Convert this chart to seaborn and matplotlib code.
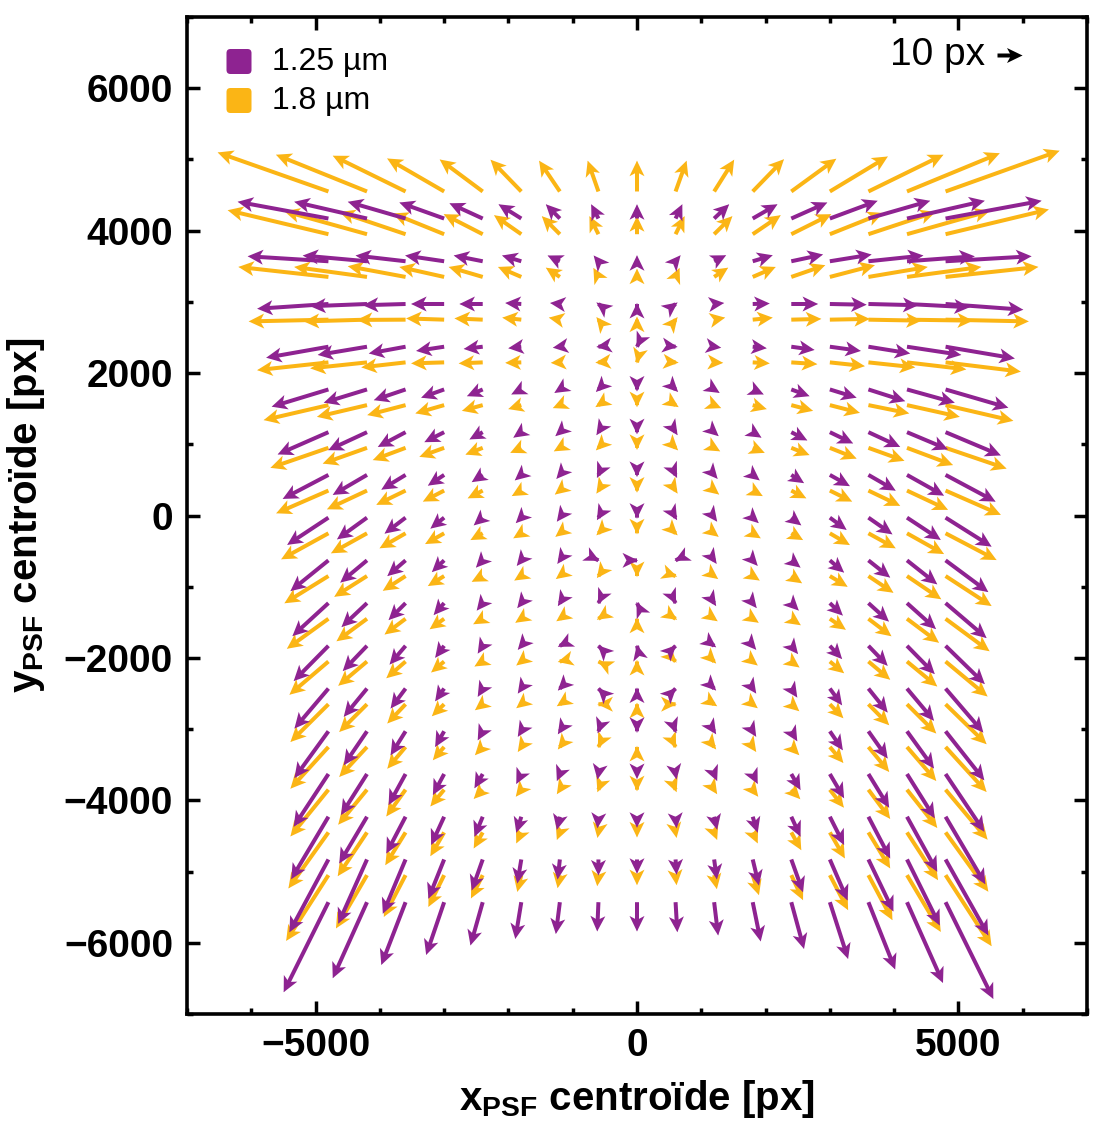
import numpy as np
import matplotlib
matplotlib.use("Agg")
import matplotlib.pyplot as plt
import seaborn as sns
from matplotlib.patches import FancyBboxPatch
from matplotlib.ticker import MultipleLocator, FixedLocator

sns.set_theme(style="ticks")
plt.rcParams['font.family'] = ['Liberation Sans', 'DejaVu Sans']
plt.rcParams['mathtext.fontset'] = 'custom'
plt.rcParams['mathtext.rm'] = 'Liberation Sans'
plt.rcParams['mathtext.bf'] = 'Liberation Sans:bold'
for k in ['text.color', 'axes.labelcolor', 'xtick.color', 'ytick.color', 'axes.edgecolor']:
    plt.rcParams[k] = 'black'

# ---------------- data (positions in detector px, displacements in px) ----------------
X_COLS = [-4800, -4200, -3600, -3000, -2400, -1800, -1200, -600, 0,
          600, 1200, 1800, 2400, 3000, 3600, 4200, 4800]
Y_PURPLE = [4170, 3570, 2970, 2370, 1770, 1170, 570, -30, -630,
            -1230, -1830, -2430, -3030, -3630, -4230, -4830, -5430]
Y_ORANGE = [4550, 3950, 3350, 2750, 2150, 1550, 950, 350, -250,
            -850, -1450, -2050, -2650, -3250, -3850, -4450, -5050]

U_PURPLE = [
    [-36.3, -29.1, -23.1, -17.9, -13.3, -9.1, -5.6, -2.9, 0, 2.7, 6.0, 9.9, 14.4, 19.1, 24.7, 31.1, 38.4],
    [-32.3, -25.7, -20.0, -15.6, -11.6, -7.7, -4.9, -1.9, 0, 2.0, 4.8, 8.0, 12.7, 16.7, 22.0, 27.1, 34.4],
    [-28.5, -22.7, -17.1, -13.2, -9.3, -6.4, -3.9, -0.8, 0, 0.8, 4.0, 6.8, 10.7, 14.7, 20.0, 25.1, 31.1],
    [-24.9, -19.7, -14.7, -11.2, -7.6, -5.2, -2.8, -0.8, -0.2, 0.8, 2.8, 5.6, 9.3, 12.4, 16.7, 21.7, 27.7],
    [-22.7, -17.3, -12.7, -9.2, -6.3, -4.0, -2.2, -1.0, 0, 1.0, 2.2, 4.4, 7.3, 10.7, 14.7, 19.1, 25.1],
    [-20.3, -15.5, -11.1, -7.9, -5.3, -3.2, -1.8, -0.8, 0, 0.8, 1.8, 3.5, 6.4, 9.3, 12.7, 16.4, 22.1],
    [-18.3, -13.7, -9.7, -6.5, -4.4, -2.6, -1.4, -0.6, 0, 0.6, 1.4, 2.8, 5.1, 8.0, 10.9, 14.8, 20.0],
    [-16.5, -12.0, -8.4, -5.5, -3.6, -2.2, -1.2, -0.6, 0, 0.6, 1.2, 2.4, 4.0, 6.7, 9.6, 13.5, 18.4],
    [-15.2, -10.7, -7.3, -4.9, -2.7, -1.8, -1.0, 0.4, 0.4, -0.4, 1.0, 2.0, 3.7, 5.7, 8.7, 12.1, 17.1],
    [-14.4, -10.2, -6.8, -4.2, -2.4, -1.6, -0.8, -0.2, -0.2, 0.2, 0.8, 1.6, 3.0, 5.2, 8.2, 11.6, 16.4],
    [-13.9, -9.7, -6.4, -3.6, -2.0, -1.4, -0.8, -0.2, -0.1, 0.2, 0.8, 1.4, 2.7, 4.9, 7.7, 11.1, 15.7],
    [-13.6, -9.3, -6.0, -3.6, -2.0, -1.4, -0.8, -0.2, 0, 0.2, 0.8, 1.4, 2.4, 4.9, 7.7, 10.8, 15.1],
    [-13.6, -9.3, -6.0, -3.6, -2.0, -1.4, -0.8, -0.3, 0, 0.3, 0.8, 1.4, 2.4, 5.2, 7.7, 10.8, 15.5],
    [-13.9, -10.4, -6.8, -4.5, -3.3, -2.0, -1.2, -0.4, 0, 0.4, 1.2, 2.0, 3.7, 5.7, 8.3, 11.1, 15.5],
    [-14.9, -11.1, -7.7, -5.2, -3.3, -2.0, -1.2, -0.4, 0, 0.4, 1.2, 2.0, 3.7, 5.7, 8.7, 12.1, 15.9],
    [-15.6, -11.5, -9.1, -6.3, -4.4, -1.6, -0.9, 0.0, 0, 0.4, 1.1, 2.5, 4.7, 7.1, 10.0, 13.1, 17.1],
    [-17.9, -13.7, -9.7, -7.2, -4.9, -2.4, -1.6, -0.5, 0, 0.7, 1.6, 3.2, 5.1, 7.3, 10.7, 14.4, 19.1],
]
V_PURPLE = [
    [6.7, 6.7, 6.7, 6.4, 6.1, 5.7, 5.7, 5.7, 5.7, 5.7, 5.7, 5.7, 6.4, 7.1, 7.1, 7.1, 7.1],
    [2.0, 2.3, 2.3, 2.3, 2.3, 2.3, 2.3, 2.3, 2.4, 2.4, 2.4, 2.4, 2.7, 2.7, 2.3, 2.0, 2.0],
    [-1.9, -0.9, -0.5, 0.0, 0.0, 0.4, 0.4, 0.6, 0.4, 0.6, 0.4, 0.2, 0.0, -0.3, -0.5, -1.3, -2.3],
    [-4.4, -3.3, -2.7, -1.7, -0.9, -0.6, -0.4, -0.1, -0.4, -0.1, -0.4, -0.6, -1.3, -1.7, -2.7, -3.3, -4.7],
    [-6.9, -5.3, -4.3, -3.3, -2.7, -2.0, -1.4, -1.0, -0.8, -1.0, -1.4, -2.0, -2.7, -3.3, -4.7, -5.3, -7.3],
    [-8.9, -7.2, -5.9, -4.0, -2.9, -2.2, -1.6, -1.2, -0.8, -1.2, -1.6, -2.2, -3.3, -4.5, -5.9, -6.9, -9.3],
    [-9.6, -8.0, -5.9, -4.3, -2.9, -2.2, -1.6, -1.2, -0.8, -1.2, -1.6, -2.2, -3.3, -4.5, -6.3, -8.3, -10.7],
    [-10.9, -8.7, -6.4, -4.4, -3.1, -2.2, -1.6, -1.0, -0.4, -1.0, -1.6, -2.2, -3.1, -4.9, -6.7, -8.9, -11.6],
    [-12.3, -8.9, -6.3, -4.7, -2.9, -2.2, -1.4, -0.2, 0.0, -0.2, -1.4, -2.2, -2.9, -4.9, -6.9, -9.6, -12.7],
    [-13.2, -9.6, -6.8, -4.8, -3.0, -2.0, -1.2, -0.4, 0.4, -0.4, -1.2, -2.0, -3.0, -5.0, -7.4, -10.4, -14.0],
    [-14.1, -10.1, -7.5, -4.8, -3.1, -1.6, -0.4, 0.2, 0.4, 0.2, -0.6, -1.6, -3.3, -5.3, -8.0, -11.3, -15.3],
    [-16.0, -11.3, -8.0, -5.1, -3.3, -2.0, -0.8, 0.2, 0.4, 0.2, -0.8, -2.0, -3.6, -6.7, -9.6, -12.9, -17.6],
    [-18.7, -13.6, -9.6, -6.3, -3.6, -2.2, -1.2, -0.8, -0.6, -0.8, -1.2, -2.2, -4.0, -7.6, -10.9, -14.9, -19.6],
    [-21.1, -16.4, -12.4, -8.4, -5.7, -4.0, -2.8, -2.2, -2.0, -2.2, -2.8, -4.0, -6.4, -9.7, -13.5, -17.7, -23.1],
    [-25.0, -18.7, -14.7, -11.3, -8.0, -6.4, -5.2, -4.6, -4.4, -4.6, -5.2, -6.4, -8.0, -11.3, -16.7, -22.0, -27.0],
    [-29.1, -25.7, -21.7, -15.7, -12.4, -9.6, -8.0, -6.4, -5.7, -6.1, -8.0, -10.4, -13.1, -16.4, -20.8, -26.4, -30.4],
    [-36.0, -30.4, -25.1, -21.1, -17.3, -14.7, -12.7, -11.7, -11.7, -12.0, -13.3, -15.7, -18.7, -22.7, -26.9, -32.3, -38.7],
]
U_ORANGE = [
    [-44.3, -36.4, -29.1, -22.8, -17.2, -12.3, -8.3, -4.3, 0, 4.4, 8.0, 12.5, 18.0, 23.2, 30.0, 37.1, 45.6],
    [-40.3, -33.1, -26.4, -20.5, -15.6, -10.9, -7.2, -3.6, 0, 3.6, 7.3, 11.2, 16.0, 21.3, 26.9, 33.1, 41.3],
    [-36.0, -29.1, -23.1, -17.9, -13.6, -9.3, -5.6, -2.0, 0, 1.6, 5.6, 9.2, 13.6, 18.0, 23.7, 29.7, 37.1],
    [-31.9, -25.3, -19.5, -15.2, -11.3, -7.6, -4.4, -0.8, 0, 0.8, 4.4, 8.0, 12.0, 16.0, 21.3, 26.4, 33.3],
    [-28.5, -22.7, -17.7, -13.2, -9.6, -6.4, -3.6, -1.2, -0.1, 1.2, 3.6, 6.8, 10.4, 14.0, 18.7, 23.7, 30.1],
    [-25.9, -20.0, -15.3, -11.5, -8.3, -5.2, -2.8, -1.2, 0, 1.2, 2.8, 5.6, 8.7, 12.0, 16.3, 21.1, 27.1],
    [-23.2, -17.7, -13.1, -9.9, -6.9, -4.4, -2.4, -1.0, 0, 1.0, 2.4, 4.8, 7.3, 10.7, 14.4, 18.4, 24.4],
    [-20.9, -16.0, -11.7, -8.5, -6.0, -3.8, -2.0, -0.8, 0, 0.8, 2.0, 4.0, 6.0, 8.9, 12.7, 16.4, 22.1],
    [-18.9, -14.4, -10.4, -7.6, -4.9, -3.2, -1.8, -0.8, 0, 0.8, 1.8, 3.2, 4.7, 8.0, 10.9, 14.8, 20.4],
    [-17.6, -13.1, -9.1, -6.5, -4.4, -2.8, -1.6, -0.6, 0, 0.6, 1.6, 2.8, 4.3, 7.1, 10.0, 13.7, 18.4],
    [-16.6, -12.2, -8.4, -5.8, -3.8, -2.4, -1.4, -0.6, 0, 0.6, 1.4, 2.4, 3.8, 6.4, 9.2, 12.8, 17.6],
    [-15.6, -11.5, -7.7, -5.2, -3.3, -2.0, -0.8, -0.2, 0, 0.4, 0.8, 2.0, 3.3, 5.7, 8.7, 12.1, 16.8],
    [-15.2, -11.1, -7.3, -4.9, -3.1, -2.0, -1.2, -0.4, 0, 0.4, 1.2, 2.0, 3.2, 5.4, 8.3, 11.7, 16.4],
    [-15.2, -11.1, -7.3, -4.5, -3.1, -1.4, -0.8, -0.2, 0, 0.2, 0.8, 1.4, 3.2, 5.4, 8.3, 11.7, 16.4],
    [-15.2, -11.5, -7.7, -5.5, -3.6, -2.2, -1.2, -0.4, 0, 0.4, 1.2, 2.2, 3.6, 5.6, 8.7, 12.1, 16.8],
    [-16.0, -11.7, -8.1, -5.5, -3.6, -2.0, -1.2, -0.4, 0, 0.4, 1.2, 2.0, 4.0, 6.0, 8.7, 12.4, 17.1],
    [-16.9, -12.4, -8.7, -6.3, -4.7, -1.6, -0.9, -0.5, 0, 0.4, 1.1, 2.5, 4.7, 7.3, 9.6, 13.5, 18.4],
]
V_ORANGE = [
    [15.6, 14.7, 14.3, 13.2, 12.8, 12.7, 12.3, 12.3, 12.3, 12.3, 12.7, 12.9, 13.1, 14.0, 14.7, 15.3, 16.3],
    [9.6, 9.2, 8.9, 8.3, 8.0, 7.6, 7.2, 7.2, 7.2, 7.2, 7.2, 7.6, 8.0, 8.5, 8.9, 9.3, 9.9],
    [4.0, 4.0, 4.3, 4.0, 4.0, 4.0, 3.7, 3.6, 3.3, 3.6, 3.7, 4.0, 4.7, 4.7, 4.0, 4.0, 4.0],
    [-0.7, -0.7, -0.1, 0.5, 0.5, 0.8, 0.8, 1.0, 1.2, 1.0, 0.8, 0.8, 0.3, 0.3, -0.4, -0.4, -0.7],
    [-3.1, -2.4, -2.0, -0.4, -0.4, -0.2, -0.2, -0.1, -0.4, -0.1, -0.2, -0.4, -0.7, -1.5, -2.0, -2.8, -3.7],
    [-6.0, -4.7, -4.0, -3.3, -2.3, -1.6, -1.2, -0.8, -0.8, -0.8, -1.2, -1.6, -2.3, -3.1, -3.3, -4.7, -6.3],
    [-8.0, -6.3, -4.9, -3.6, -2.7, -2.0, -1.4, -1.0, -0.8, -1.0, -1.4, -2.0, -2.9, -4.3, -5.2, -6.9, -8.3],
    [-9.1, -7.5, -5.7, -4.4, -3.1, -2.2, -1.6, -1.2, -0.8, -1.2, -1.6, -2.2, -3.1, -4.4, -6.1, -7.7, -9.7],
    [-10.4, -8.0, -6.0, -4.3, -2.7, -2.0, -1.4, -0.8, -0.4, -0.8, -1.4, -2.0, -2.7, -4.7, -6.0, -8.3, -10.7],
    [-10.9, -8.3, -5.9, -4.0, -2.3, -1.8, -1.2, -0.8, -0.4, -0.2, -1.2, -1.8, -2.9, -4.3, -6.7, -9.3, -12.0],
    [-12.0, -9.0, -6.3, -4.2, -2.2, -1.6, -1.0, -0.4, 0.4, -0.4, -1.0, -1.6, -2.6, -4.4, -7.0, -9.6, -13.0],
    [-13.3, -9.7, -6.7, -4.4, -2.0, -1.6, -0.2, 0.1, 0.6, -0.4, -0.8, -1.6, -2.4, -4.7, -7.3, -10.0, -14.0],
    [-15.1, -11.1, -7.7, -4.8, -2.4, -1.6, -0.8, 0.0, 0.6, 0.0, -0.8, -1.6, -2.8, -5.6, -8.4, -11.7, -16.0],
    [-16.7, -12.0, -8.7, -5.3, -3.3, -2.0, -1.0, -0.4, 0.4, -0.4, -1.0, -2.0, -3.3, -6.4, -10.0, -13.6, -18.0],
    [-18.7, -14.0, -10.7, -6.7, -3.7, -2.8, -1.8, -1.0, -0.6, -1.0, -1.8, -2.8, -3.8, -7.2, -11.7, -15.3, -20.0],
    [-22.4, -17.5, -13.1, -9.5, -6.4, -4.4, -3.0, -2.2, -2.0, -2.2, -3.0, -4.4, -7.1, -10.4, -14.4, -19.1, -23.7],
    [-26.3, -21.3, -16.7, -12.7, -9.3, -6.7, -5.2, -4.4, -4.0, -4.0, -5.6, -8.0, -10.0, -14.0, -18.0, -22.7, -28.4],
]

SERIES_LABELS = ["1.25 µm", "1.8 µm"]
KEY_LENGTH = 10          # px
KEY_LABEL = "10 px"
X_TICKS = [-5000, 0, 5000]
Y_TICKS = [-6000, -4000, -2000, 0, 2000, 4000, 6000]

PURPLE = "#8E2391"
ORANGE = "#FBB515"

# ---------------- figure ----------------
W, H = 1108, 1127
fig = plt.figure(figsize=(W / 100, H / 100), dpi=100)
ax = fig.add_axes([187 / W, 1 - 1014 / H, 900 / W, 997 / H])

# arrow geometry in screen pixels
SHAFT_W = 4.0
HEAD_L, HEAD_W, HEAD_AX = 15.5, 15.0, 11.5
common = dict(angles="uv", pivot="tail", units="dots", scale_units="dots",
              scale=0.4, minshaft=0, minlength=0)
# shafts only (end at the notch of the head)
shaft_kw = dict(common, width=SHAFT_W, headwidth=1.0,
                headlength=HEAD_AX / SHAFT_W, headaxislength=HEAD_AX / SHAFT_W)
# heads only (hair-thin shaft), full size even for very short vectors
HW = 0.02
head_kw = dict(common, width=HW, headwidth=HEAD_W / HW,
               headlength=HEAD_L / HW, headaxislength=HEAD_AX / HW)

XO, YO = np.meshgrid(X_COLS, Y_ORANGE)
XP, YP = np.meshgrid(X_COLS, Y_PURPLE)
series = [(XO, YO, U_ORANGE, V_ORANGE, ORANGE, 3),
          (XP, YP, U_PURPLE, V_PURPLE, PURPLE, 5)]
for XX, YY, U, V, col, z in series:
    qs = ax.quiver(XX, YY, np.array(U), np.array(V), color=col, zorder=z, **shaft_kw)
    qh = ax.quiver(XX, YY, np.array(U), np.array(V), color=col, zorder=z + 1, **head_kw)

ax.set_xlim(-7000, 7000)
ax.set_ylim(-7000, 7000)

ax.xaxis.set_major_locator(FixedLocator(X_TICKS))
ax.yaxis.set_major_locator(FixedLocator(Y_TICKS))
ax.xaxis.set_minor_locator(MultipleLocator(1000))
ax.yaxis.set_minor_locator(MultipleLocator(1000))
ax.tick_params(which="both", direction="in", top=True, right=True,
               width=2.5, color="black")
ax.tick_params(which="major", length=9.5, labelsize=28, pad=10)
ax.tick_params(which="minor", length=4.5)
for lab in ax.get_xticklabels() + ax.get_yticklabels():
    lab.set_fontweight("bold")
for sp in ax.spines.values():
    sp.set_linewidth(2.6)
    sp.set_color("black")

ax.set_xlabel(r"$\mathbf{x}_{\mathbf{PSF}}$ centroïde [px]", fontsize=29,
              fontweight="bold", labelpad=10)
ax.set_ylabel(r"$\mathbf{y}_{\mathbf{PSF}}$ centroïde [px]", fontsize=29,
              fontweight="bold", labelpad=12)

# legend (manual, rounded squares)
for i, (lab, col) in enumerate(zip(SERIES_LABELS, [PURPLE, ORANGE])):
    ytop = 49 + i * 39
    box = FancyBboxPatch((2.265, (H - ytop - 25) / 100), 0.25, 0.25,
                         boxstyle="round,pad=0,rounding_size=0.04",
                         transform=fig.dpi_scale_trans, facecolor=col,
                         edgecolor="none")
    fig.patches.append(box)
    fig.text(272 / W, 1 - (ytop + 13) / H, lab, fontsize=23, va="center", ha="left")

# quiver key: shaft + head of the last (purple) quivers, drawn in black
ax.quiverkey(qs, 997 / W, 1 - 55 / H, KEY_LENGTH, "", labelpos="W",
             coordinates="figure", color="black")
ax.quiverkey(qh, 997 / W, 1 - 55 / H, KEY_LENGTH, KEY_LABEL, labelpos="W",
             coordinates="figure", color="black", labelsep=0.12,
             fontproperties={"size": 28})

fig.savefig("out.png", dpi=100)
